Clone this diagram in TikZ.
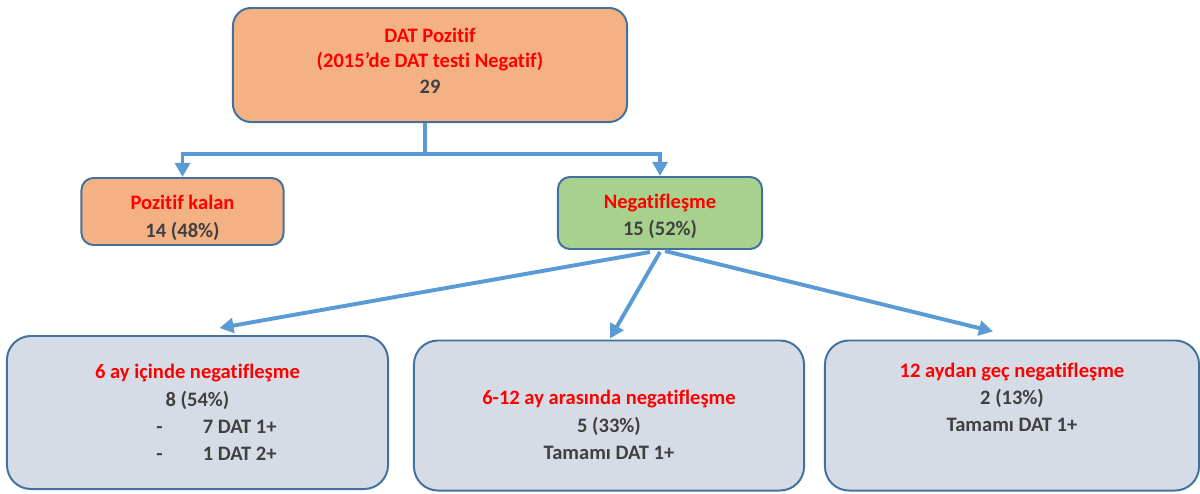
\documentclass[tikz,border=0pt]{standalone}
\usepackage{fontspec}
\setmainfont[Ligatures=NoCommon]{Carlito}
\usetikzlibrary{arrows.meta, positioning, calc}
\definecolor{boxline}{HTML}{41719C}
\definecolor{arrowblue}{HTML}{5B9BD5}
\definecolor{orangefill}{HTML}{F4B183}
\definecolor{greenfill}{HTML}{A9D18E}
\definecolor{greyfill}{HTML}{D6DCE5}
\definecolor{darktext}{HTML}{404040}
\newcommand{\hl}[1]{\textcolor{red}{#1}}
\newcommand{\padtop}[1]{\rule{0pt}{#1}}
\newcommand{\padbot}[1]{\rule[-#1]{0pt}{0pt}}
\tikzset{
    flowchart/.style={x=0.025cm, y=-0.025cm, font=\fontsize{14.6}{19.5}\selectfont\bfseries, text=darktext},
    box/.style={draw=boxline, line width=1.4pt, align=center, inner sep=0pt},
    topbox/.style={box, fill=orangefill, rounded corners=0.45cm, minimum width=9.85cm, minimum height=2.85cm, font=\fontsize{14.6}{17.8}\selectfont\bfseries},
    midbox/.style={box, rounded corners=0.3cm, minimum width=5.05cm},
    lowbox/.style={box, fill=greyfill, rounded corners=0.6cm, minimum height=3.75cm},
    conn/.style={draw=arrowblue, line width=2.8pt, -{Triangle[length=10pt, width=10.5pt]}},
}
\begin{document}
\begin{tikzpicture}[flowchart]
    \useasboundingbox (0,0) rectangle (1200,493);

    \node[topbox]                                   (top) at (430,65)   {\hl{DAT Pozitif}\\\hl{(2015’de DAT testi Negatif)}\\29\padbot{6pt}};
    \node[midbox, fill=orangefill, minimum height=1.675cm] (poz) at (182.5,211.5) {\padtop{19.5pt}\hl{Pozitif kalan}\\14 (48\%)};
    \node[midbox, fill=greenfill, minimum width=5.1cm, minimum height=1.8cm] (neg) at (660,213) {\padtop{15pt}\hl{Negatifleşme}\\15 (52\%)};

    \node[lowbox, minimum width=9.525cm, minimum height=3.825cm] (early) at (197.5,412.5)
        {\hl{6 ay içinde negatifleşme}\\8 (54\%)\\\hspace*{27pt}-\hspace{28.5pt}7 DAT 1+\\\hspace*{27pt}-\hspace{28.5pt}1 DAT 2+};
    \node[lowbox, minimum width=9.75cm]             (mid)   at (609,415.5)
        {\padtop{24pt}\hl{6-12 ay arasında  negatifleşme}\\5 (33\%)\\Tamamı DAT 1+};
    \node[lowbox, minimum width=9.35cm]             (late)  at (1012,415.5)
        {\hl{12 aydan geç negatifleşme}\\2 (13\%)\\Tamamı DAT 1+\padbot{26pt}};

    % arrow ends just above the lower boxes
    \coordinate (e1) at ($(early.north)+(22,-7)$);
    \coordinate (e2) at ($(mid.north)+(1,-1)$);
    \coordinate (e3) at ($(late.north)+(-19,-8)$);

    \draw[conn] ($(top.south)+(-5,0)$) -- ++(0,31) -| (poz.north);
    \draw[conn] ($(top.south)+(-5,0)$) -- ++(0,31) -| (neg.north);

    \draw[conn] ($(neg.south)+(-10,2)$) -- (e1);
    \draw[conn] ($(neg.south)+(0,2)$) -- (e2);
    \draw[conn] ($(neg.south)+(5,1)$) -- (e3);
\end{tikzpicture}
\end{document}
